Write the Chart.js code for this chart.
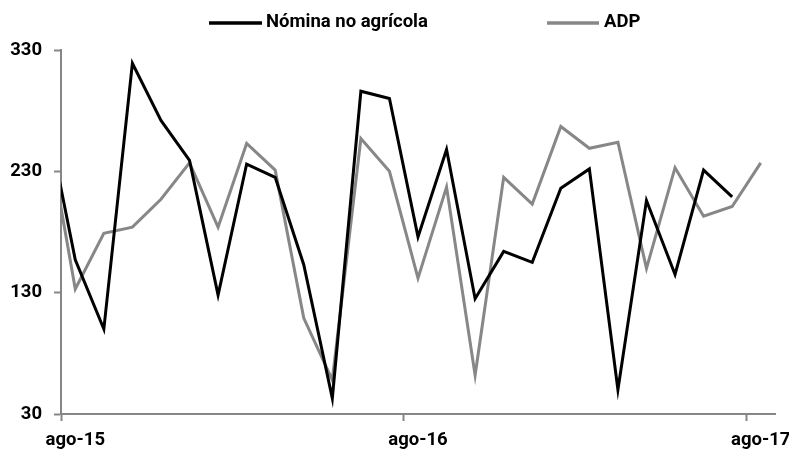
<!DOCTYPE html>
<html>
<head>
<meta charset="utf-8">
<script src="https://cdn.jsdelivr.net/npm/chart.js@4.4.1/dist/chart.umd.min.js"></script>
<style>
  html, body { margin: 0; padding: 0; background: #ffffff; }
  #wrap { width: 789px; height: 451px; }
</style>
</head>
<body>
<div id="wrap"><canvas id="c" width="789" height="451"></canvas></div>
<script>
// Months: first entry (jul-15) lies just before the axis start and is clipped
const categories = ['jul-15','ago-15','sep-15','oct-15','nov-15','dic-15','ene-16','feb-16','mar-16','abr-16','may-16','jun-16','jul-16',
                    'ago-16','sep-16','oct-16','nov-16','dic-16','ene-17','feb-17','mar-17','abr-17','may-17','jun-17','jul-17','ago-17'];
const nominaValues = [275, 157, 100, 319, 272, 239, 128, 236, 225, 153, 43, 296, 290,
                      176, 248, 125, 164, 155, 216, 232, 50, 206, 145, 231, 209, null];
const adpValues    = [267, 133, 179, 184, 207, 237, 184, 253, 231, 109, 58, 257, 230,
                      142, 217, 62, 225, 203, 267, 249, 254, 150, 233, 193, 201, 237];
const tickLabels = ['ago-15', 'ago-16', 'ago-17'];
const tickCategories = ['ago-15', 'ago-16', 'ago-17'];
const yTicks = [30, 130, 230, 330];

// position of each category on the linear x axis (ago-15 = 0)
const catIndex = c => categories.indexOf(c) - 1;

// choose an installed bold family that gives the tallest glyphs for the legend width
function pickFont() {
  const c = document.createElement('canvas').getContext('2d');
  const test = 'Nómina no agrícola';
  const cands = ['Liberation Sans Narrow', 'Arial Narrow', 'Roboto', 'Liberation Sans'];
  let best = {family: 'Liberation Sans', size: 17.5, cap: 0};
  for (const f of cands) {
    let avail = false;
    for (const base of ['monospace', 'serif']) {
      c.font = 'bold 50px "' + f + '", ' + base; const w1 = c.measureText(test + ' 330').width;
      c.font = 'bold 50px ' + base; const w2 = c.measureText(test + ' 330').width;
      if (Math.abs(w1 - w2) > 0.5) avail = true;
    }
    if (!avail) continue;
    c.font = 'bold 100px "' + f + '"';
    const w = c.measureText(test).width;
    const size = 100 * 162 / w;
    const cap = c.measureText('H').actualBoundingBoxAscent * size / 100;
    if (cap > best.cap) best = {family: f, size: Math.round(size * 10) / 10, cap: cap};
  }
  return best;
}
const chosen = pickFont();
const family = chosen.family;
const fontSize = chosen.size;

const axisGray = '#868686';
const seriesGray = '#878787';

const legendPlugin = {
  id: 'fixedLegend',
  afterDraw(chart) {
    const ctx = chart.ctx;
    const items = [
      {ds: 0, x0: 209, x1: 262, tx: 266},
      {ds: 1, x0: 547, x1: 599, tx: 604}
    ];
    ctx.save();
    ctx.font = 'bold ' + fontSize + 'px "' + family + '"';
    ctx.textBaseline = 'middle';
    ctx.textAlign = 'left';
    items.forEach(it => {
      const ds = chart.data.datasets[it.ds];
      ctx.strokeStyle = ds.borderColor;
      ctx.lineWidth = 3.5;
      ctx.beginPath();
      ctx.moveTo(it.x0, 23);
      ctx.lineTo(it.x1, 23);
      ctx.stroke();
      ctx.fillStyle = '#000';
      ctx.fillText(ds.label, it.tx, 22.5);
    });
    ctx.restore();
  }
};

const toPoints = arr => arr.map((v, i) => ({x: catIndex(categories[i]), y: v}));

new Chart(document.getElementById('c'), {
  type: 'line',
  data: {
    datasets: [
      {label: 'Nómina no agrícola', data: toPoints(nominaValues), borderColor: '#000000', backgroundColor: '#000000',
       borderWidth: 3, pointRadius: 0, pointHoverRadius: 0, tension: 0, spanGaps: false},
      {label: 'ADP', data: toPoints(adpValues), borderColor: seriesGray, backgroundColor: seriesGray,
       borderWidth: 3, pointRadius: 0, pointHoverRadius: 0, tension: 0}
    ]
  },
  options: {
    responsive: false,
    animation: false,
    devicePixelRatio: 1,
    layout: {padding: {left: 0, right: 14, top: 50, bottom: 0}},
    plugins: {legend: {display: false}, tooltip: {enabled: false}},
    scales: {
      x: {
        type: 'linear',
        min: -0.5,
        max: 24.5,
        afterFit: s => { s.height = 37; },
        afterBuildTicks: s => { s.ticks = tickCategories.map(c => ({value: catIndex(c) - 0.5})); },
        border: {display: true, color: axisGray, width: 2},
        grid: {display: true, drawOnChartArea: false, drawTicks: true, tickLength: 7, tickColor: axisGray, tickWidth: 2},
        ticks: {
          autoSkip: false, maxRotation: 0, minRotation: 0,
          padding: 8,
          labelOffset: 14.28,
          color: '#000',
          font: {family: family, size: fontSize, weight: 'bold'},
          callback: (v, i) => tickLabels[i]
        }
      },
      y: {
        min: 30,
        max: 330,
        afterFit: s => { s.width = 61; },
        afterBuildTicks: s => { s.ticks = yTicks.map(v => ({value: v})); },
        border: {display: true, color: axisGray, width: 2},
        grid: {display: true, drawOnChartArea: false, drawTicks: true, tickLength: 7, tickColor: axisGray, tickWidth: 2},
        ticks: {
          padding: 12,
          color: '#000',
          font: {family: family, size: fontSize, weight: 'bold'},
          callback: v => String(v)
        }
      }
    }
  },
  plugins: [legendPlugin]
});
</script>
</body>
</html>
